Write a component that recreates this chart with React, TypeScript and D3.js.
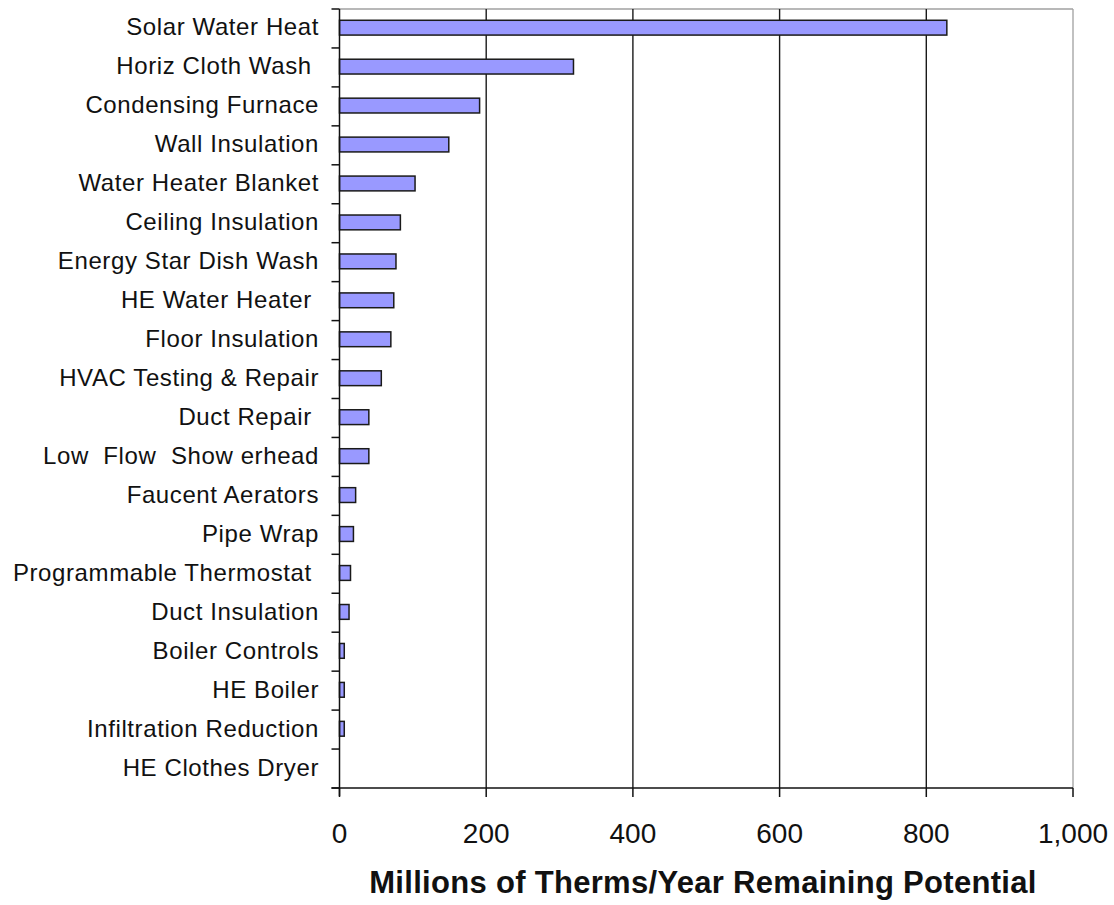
import React, { useRef, useEffect } from 'react';
import * as d3 from 'd3';

const measures = [
  'Solar Water Heat',
  'Horiz Cloth Wash ',
  'Condensing Furnace',
  'Wall Insulation',
  'Water Heater Blanket',
  'Ceiling Insulation',
  'Energy Star Dish Wash',
  'HE Water Heater ',
  'Floor Insulation',
  'HVAC Testing & Repair',
  'Duct Repair ',
  'Low  Flow  Show erhead',
  'Faucent Aerators',
  'Pipe Wrap',
  'Programmable Thermostat ',
  'Duct Insulation',
  'Boiler Controls',
  'HE Boiler',
  'Infiltration Reduction',
  'HE Clothes Dryer',
];

const potential = [828, 319, 191, 149, 103, 83, 77, 74, 70, 57, 40, 40, 22, 19, 15, 13, 6.5, 6.5, 6.5, 0];

const xTicks = [0, 200, 400, 600, 800, 1000];
const gridTicks = [200, 400, 600, 800];

const FONT = '"Liberation Sans", Arial, sans-serif';

function App() {
  const svgRef = useRef<SVGSVGElement>(null);
  const width = 1114;
  const height = 905;

  useEffect(() => {
    const svg = d3.select(svgRef.current);
    svg.selectAll('*').remove();

    const left = 339.5, right = 1073, top = 9, bottom = 788;

    const x = d3.scaleLinear().domain([0, 1000]).range([left, right]);
    const y = d3.scaleBand<string>().domain(measures).range([top, bottom]).padding(0);
    const step = y.step();
    const barH = step * 0.38;

    const g = svg.append('g');

    // plot frame (grey top/right)
    g.append('line')
      .attr('x1', left).attr('x2', right).attr('y1', top).attr('y2', top)
      .attr('stroke', '#a0a0a0').attr('stroke-width', 1.3);
    g.append('line')
      .attr('x1', right).attr('x2', right).attr('y1', top).attr('y2', bottom)
      .attr('stroke', '#a0a0a0').attr('stroke-width', 1.3);

    // vertical gridlines
    g.selectAll('.grid')
      .data(gridTicks)
      .enter()
      .append('line')
      .attr('x1', d => x(d)).attr('x2', d => x(d))
      .attr('y1', top).attr('y2', bottom)
      .attr('stroke', '#1a1a1a').attr('stroke-width', 1.4);

    // bars
    g.selectAll('.bar')
      .data(measures)
      .enter()
      .append('rect')
      .attr('x', x(0))
      .attr('y', d => (y(d) as number) + step / 2 - barH / 2 - 0.8)
      .attr('width', (d, i) => x(potential[i]) - x(0))
      .attr('height', barH)
      .attr('fill', '#9999ff')
      .attr('stroke', '#1a1a1a')
      .attr('stroke-width', 1.5)
      .style('display', (d, i) => (potential[i] > 0 ? null : 'none'));

    // y axis
    g.append('line')
      .attr('x1', left).attr('x2', left).attr('y1', top).attr('y2', bottom + 8)
      .attr('stroke', '#111').attr('stroke-width', 1.5);
    const yBounds = d3.range(measures.length + 1).map(i => top + i * step);
    g.selectAll('.ytick')
      .data(yBounds)
      .enter()
      .append('line')
      .attr('x1', left - 8).attr('x2', left)
      .attr('y1', d => d).attr('y2', d => d)
      .attr('stroke', '#111').attr('stroke-width', 1.5);

    g.selectAll('.ylabel')
      .data(measures)
      .enter()
      .append('text')
      .attr('x', 319)
      .attr('y', d => (y(d) as number) + step / 2 + 7)
      .attr('text-anchor', 'end')
      .style('white-space', 'pre')
      .style('font-family', FONT)
      .style('font-size', '24px')
      .style('letter-spacing', '0.6px')
      .attr('fill', '#111')
      .text(d => d);

    // x axis
    g.append('line')
      .attr('x1', left - 8).attr('x2', right).attr('y1', bottom).attr('y2', bottom)
      .attr('stroke', '#111').attr('stroke-width', 1.5);
    g.selectAll('.xtick')
      .data(xTicks)
      .enter()
      .append('line')
      .attr('x1', d => x(d)).attr('x2', d => x(d))
      .attr('y1', bottom).attr('y2', bottom + 9)
      .attr('stroke', '#111').attr('stroke-width', 1.5);

    g.selectAll('.xlabel')
      .data(xTicks)
      .enter()
      .append('text')
      .attr('x', d => x(d))
      .attr('y', 843)
      .attr('text-anchor', 'middle')
      .style('font-family', FONT)
      .style('font-size', '28px')
      .attr('fill', '#111')
      .text(d => d3.format(',')(d));

    // axis title
    g.append('text')
      .attr('x', 703)
      .attr('y', 893)
      .attr('text-anchor', 'middle')
      .style('font-family', FONT)
      .style('font-size', '31px')
      .style('font-weight', 'bold')
      .style('letter-spacing', '0.3px')
      .attr('fill', '#111')
      .text('Millions of Therms/Year Remaining Potential');
  }, []);

  return (
    <svg
      ref={svgRef}
      width={width}
      height={height}
      style={{ position: 'absolute', left: 0, top: 0, background: '#fff' }}
    />
  );
}

export default App;
